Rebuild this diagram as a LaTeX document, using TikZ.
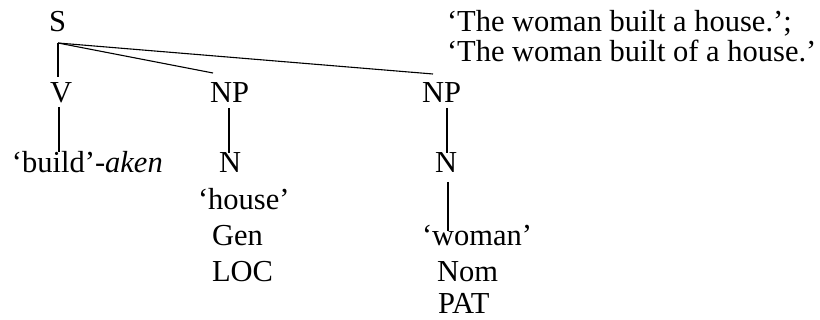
\documentclass[tikz,border=0pt]{standalone}
\usepackage{fontspec}
\setmainfont{Liberation Serif}
\begin{document}
\begin{tikzpicture}[x=1pt,y=-1pt,
  lbl/.style={anchor=base west,inner sep=0pt,outer sep=0pt,
              font=\fontsize{30.5}{36}\selectfont},
  branch/.style={line width=1.1pt}]
\useasboundingbox (0,0) rectangle (820,320);

% tree labels
\node[lbl] (S)      at (49,32)   {S};
\node[lbl] (V)      at (50,103)  {V};
\node[lbl] (NP1)    at (210,103) {NP};
\node[lbl] (NP2)    at (422,103) {NP};
\node[lbl] (verb)   at (12,173)  {‘build’-\textit{aken}};
\node[lbl] (N1)     at (219,173) {N};
\node[lbl] (N2)     at (435,173) {N};
\node[lbl] (house)  at (198,210) {‘house’};
\node[lbl] (gen)    at (212,246) {Gen};
\node[lbl] (loc)    at (212,282) {LOC};
\node[lbl] (woman)  at (422,246) {‘woman’};
\node[lbl] (nom)    at (437,282) {Nom};
\node[lbl] (pat)    at (438,314) {PAT};

% translations
\node[lbl] (gloss1) at (447,32)  {‘The woman built a house.’;};
\node[lbl] (gloss2) at (447,62)  {‘The woman built of a house.’};

% branch end points
\coordinate (S-foot)    at (58,43);
\coordinate (V-top)     at (58,77);
\coordinate (NP1-top)   at (213,73);
\coordinate (NP2-top)   at (433,74);
\coordinate (V-foot)    at (59,107);
\coordinate (verb-top)  at (59,152);
\coordinate (NP1-foot)  at (229,108);
\coordinate (N1-top)    at (229,153);
\coordinate (NP2-foot)  at (447,108);
\coordinate (N2-top)    at (447,153);
\coordinate (N2-foot)   at (448,182);
\coordinate (woman-top) at (448,231);

% branches
\draw[branch] (S-foot) -- (V-top);
\draw[branch] (S-foot) -- (NP1-top);
\draw[branch] (S-foot) -- (NP2-top);
\draw[branch] (V-foot) -- (verb-top);
\draw[branch] (NP1-foot) -- (N1-top);
\draw[branch] (NP2-foot) -- (N2-top);
\draw[branch] (N2-foot) -- (woman-top);
\end{tikzpicture}
\end{document}
